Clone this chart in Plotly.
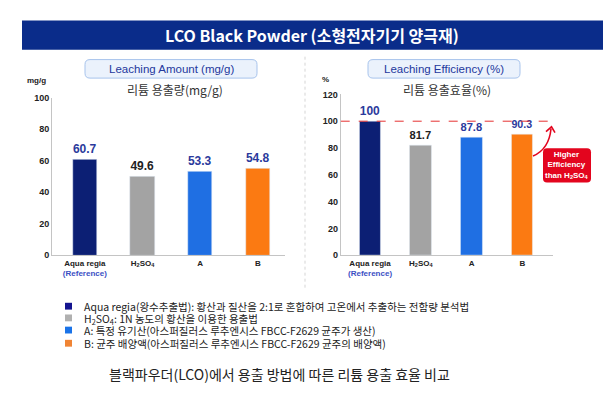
import plotly.graph_objects as go

W, H = 613, 396
categories = ["Aqua regia", "H2SO4", "A", "B"]
tick_labels = ["Aqua regia<br><span style='color:#3b4fc4'>(Reference)</span>",
               "H<sub>2</sub>SO<sub>4</sub>", "A", "B"]
amount_values = [60.7, 49.6, 53.3, 54.8]
efficiency_values = [100, 81.7, 87.8, 90.3]
bar_colors = ["#0c1f74", "#a3a3a3", "#1f6fe3", "#fb7a12"]
label_colors = ["#2b3a9c", "#222222", "#2b3a9c", "#2b3a9c"]
legend_colors = ["#14148f", "#b0b0b0", "#1a73e8", "#f08434"]
legend_texts = [
    "Aqua regia(왕수추출법): 황산과 질산을 2:1로 혼합하여 고온에서 추출하는 전함량 분석법",
    "H<sub>2</sub>SO<sub>4</sub>: 1N 농도의 황산을 이용한 용출법",
    "A: 특정 유기산(아스퍼질러스 루추엔시스 FBCC-F2629 균주가 생산)",
    "B: 균주 배양액(아스퍼질러스 루추엔시스 FBCC-F2629 균주의 배양액)",
]

FONT = "Liberation Sans, Noto Sans CJK KR, sans-serif"
KFONT = "Noto Sans CJK KR, Liberation Sans, sans-serif"

def px(x):
    return x / W

def py(y):
    return 1 - y / H

fig = go.Figure()
fig.add_trace(go.Bar(
    x=tick_labels, y=amount_values, marker_color=bar_colors, width=0.42,
    text=[f"{v}" for v in amount_values], textposition="outside",
    textfont=dict(color=label_colors, size=12, family=FONT, weight="bold"),
    cliponaxis=False, xaxis="x", yaxis="y", showlegend=False))
fig.add_trace(go.Bar(
    x=tick_labels, y=efficiency_values, marker_color=bar_colors, width=0.42,
    text=[f"{v}" for v in efficiency_values], textposition="outside",
    textfont=dict(color=label_colors, size=12, family=FONT, weight="bold"),
    cliponaxis=False, xaxis="x2", yaxis="y2", showlegend=False))

axis_common = dict(showgrid=False, zeroline=False, showline=True, linecolor="#c4c4c4",
                   linewidth=1, ticks="", fixedrange=True)

fig.update_layout(
    width=W, height=H, margin=dict(l=0, r=0, t=0, b=0),
    paper_bgcolor="white", plot_bgcolor="white",
    font=dict(family=FONT, color="#222"),
    bargap=0,
    xaxis=dict(domain=[px(52), px(285)], range=[-0.57, 3.47], anchor="y",
               tickfont=dict(size=8, color="#222", weight="bold"), **axis_common),
    yaxis=dict(domain=[py(256.7), py(95)], range=[0, 100], anchor="x", dtick=20,
               tickfont=dict(size=9, color="#222", weight="bold"), **axis_common),
    xaxis2=dict(domain=[px(340.7), px(553)], range=[-0.577, 3.6], anchor="y2",
                tickfont=dict(size=8, color="#222", weight="bold"), **axis_common),
    yaxis2=dict(domain=[py(256.7), py(91.7)], range=[0, 120], anchor="x2", dtick=20,
                tickfont=dict(size=9, color="#222", weight="bold"), **axis_common),
)

def rounded(x0, y0, x1, y1, r):
    # pixel coords -> paper path with rounded corners
    rx, ry = r / W, r / H
    X0, X1 = px(x0), px(x1)
    Y0, Y1 = py(y1), py(y0)  # bottom, top in paper
    return (f"M {X0+rx},{Y1} L {X1-rx},{Y1} Q {X1},{Y1} {X1},{Y1-ry} "
            f"L {X1},{Y0+ry} Q {X1},{Y0} {X1-rx},{Y0} L {X0+rx},{Y0} "
            f"Q {X0},{Y0} {X0},{Y0+ry} L {X0},{Y1-ry} Q {X0},{Y1} {X0+rx},{Y1} Z")

shapes = []
# title banner
shapes.append(dict(type="rect", xref="paper", yref="paper", x0=px(22), x1=px(603),
                   y0=py(46), y1=py(16), fillcolor="#0a2c8a", line=dict(width=0)))
# pills
shapes.append(dict(type="path", xref="paper", yref="paper", path=rounded(85, 56, 257, 75, 5),
                   fillcolor="#ebf2fc", line=dict(color="#a7c3ec", width=1)))
shapes.append(dict(type="path", xref="paper", yref="paper", path=rounded(368, 56, 520, 75, 5),
                   fillcolor="#ebf2fc", line=dict(color="#a7c3ec", width=1)))
# separator
shapes.append(dict(type="line", xref="paper", yref="paper", x0=px(305), x1=px(305),
                   y0=py(290), y1=py(52), line=dict(color="#d5d5d5", width=1, dash="dot")))
# dashed reference line at 100 %
shapes.append(dict(type="line", xref="x2", yref="y2", x0=-0.577, x1=3.6, y0=100, y1=100,
                   line=dict(color="#e53030", width=1, dash="dash")))
# red box
shapes.append(dict(type="path", xref="paper", yref="paper", path=rounded(543, 147, 591, 182, 4),
                   fillcolor="#e3051e", line=dict(width=0)))
# curved arrow
shapes.append(dict(type="path", xref="paper", yref="paper",
                   path=f"M {px(533)},{py(155)} Q {px(549)},{py(148)} {px(551)},{py(127)}",
                   line=dict(color="#e3051e", width=1.6)))
shapes.append(dict(type="path", xref="paper", yref="paper",
                   path=f"M {px(546)},{py(130)} L {px(551.5)},{py(125)} L {px(555)},{py(131)}",
                   line=dict(color="#e3051e", width=1.6)))
# legend squares
leg_rows = [309, 321, 333.5, 347]
leg_text_shift = [0, 0.8, 0, 0]
for c, yy in zip(legend_colors, leg_rows):
    shapes.append(dict(type="rect", xref="paper", yref="paper", x0=px(65), x1=px(72),
                       y0=py(yy + 3.5), y1=py(yy - 3.5), fillcolor=c, line=dict(width=0)))

annotations = []
def ann(text, x, y, size, color="#222", xanchor="center", family=KFONT):
    annotations.append(dict(text=text, x=px(x), y=py(y), xref="paper", yref="paper",
                            xanchor=xanchor, yanchor="middle", showarrow=False,
                            font=dict(size=size, color=color, family=family)))

ann("<b>LCO Black Powder</b> <b>(소형전자기기 양극재)</b>", 312, 31, 16, "white")
ann("Leaching Amount (mg/g)", 171, 65.5, 11.5, "#24389c", family=FONT)
ann("Leaching Efficiency (%)", 444, 65.5, 11.5, "#24389c", family=FONT)
ann("리튬 용출량(mg/g)", 175, 87, 12, "#333")
ann("리튬 용출효율(%)", 447, 87, 12, "#333")
ann("<b>mg/g</b>", 36, 77, 8, family=FONT)
ann("<b>%</b>", 326, 76, 8, family=FONT)
ann("<b>Higher<br>Efficiency<br>than H<sub>2</sub>SO<sub>4</sub></b>", 567, 164.5, 8, "white", family=FONT)
for t, yy, sh in zip(legend_texts, leg_rows, leg_text_shift):
    ann(t, 82, yy + sh, 10.5, "#222", xanchor="left")
ann("블랙파우더(LCO)에서 용출 방법에 따른 리튬 용출 효율 비교", 279, 379, 14, "#222")

fig.update_layout(shapes=shapes, annotations=annotations)
fig.write_html("out.html")
